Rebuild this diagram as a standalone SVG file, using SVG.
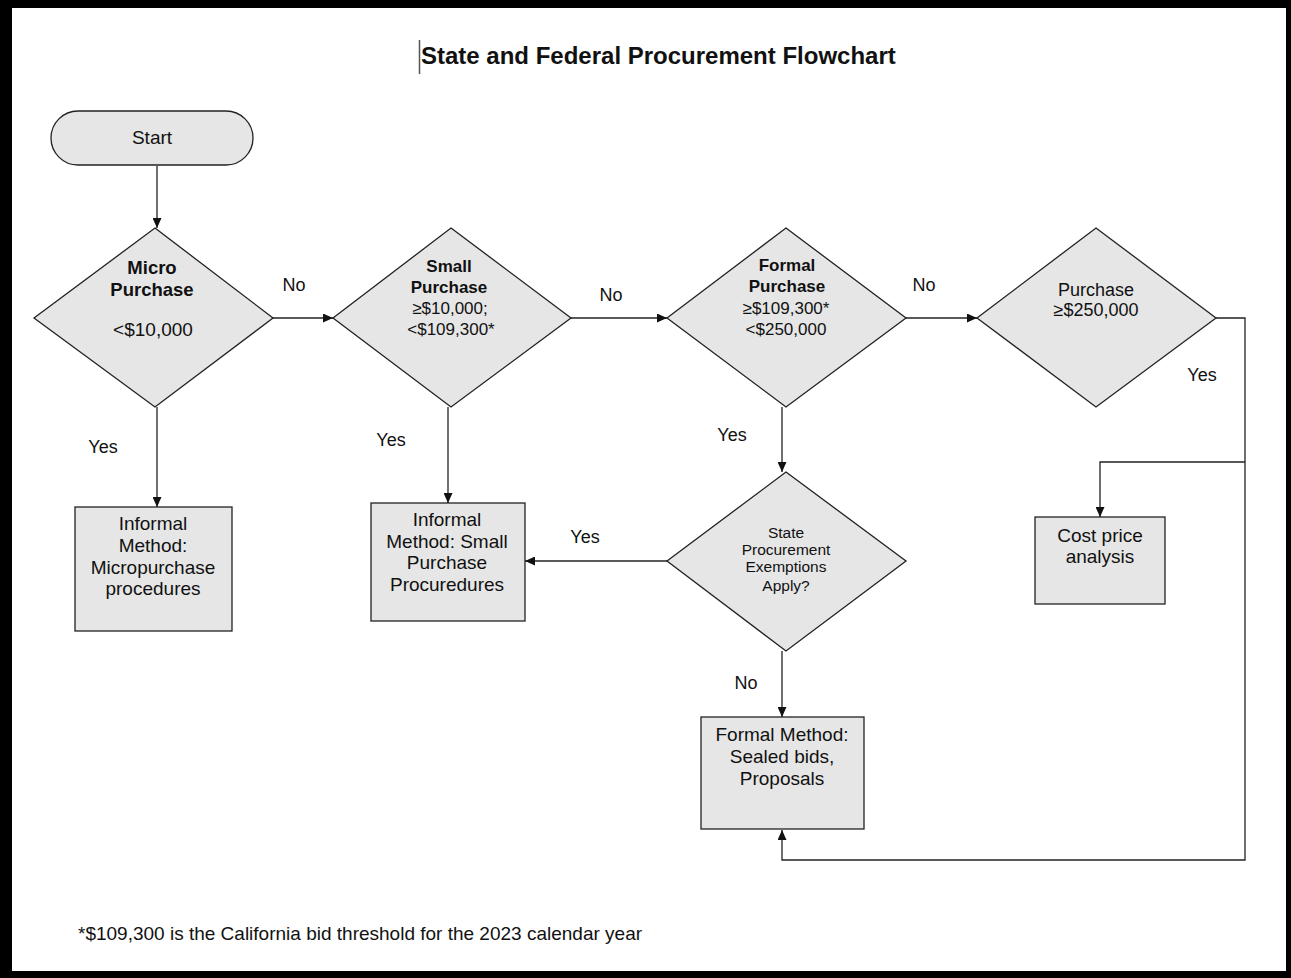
<svg xmlns="http://www.w3.org/2000/svg" width="1291" height="978" viewBox="0 0 1291 978">
<style>
.shape{fill:#e6e6e6;stroke:#222;stroke-width:1.3}
.t{font-family:"Liberation Sans",Arial,sans-serif;font-size:19px;fill:#111;text-anchor:middle}
.d{font-size:17px}
.b{font-weight:bold}
.s{font-size:15.5px}
.lbl{font-family:"Liberation Sans",Arial,sans-serif;font-size:18px;fill:#111;text-anchor:middle}
.c{fill:none;stroke:#222;stroke-width:1.3}
</style>
<defs>
<marker id="ah" viewBox="0 0 10 10" refX="10" refY="5" markerWidth="10" markerHeight="9" markerUnits="userSpaceOnUse" orient="auto" preserveAspectRatio="none">
<path d="M0,0 L10,5 L0,10 z" fill="#111"/>
</marker>
</defs>
<rect x="0" y="0" width="1291" height="978" fill="#000"/>
<rect x="12" y="8" width="1274" height="963" fill="#fff"/>
<g id="title">
<line x1="419.5" y1="40" x2="419.5" y2="74" stroke="#555" stroke-width="1.5"/>
<text x="421" y="64" font-family="'Liberation Sans',Arial,sans-serif" font-size="24" font-weight="bold" fill="#111">State and Federal Procurement Flowchart</text>
</g>
<g id="connectors">
<path class="c" d="M157,166 V228" marker-end="url(#ah)"/>
<path class="c" d="M273,318 H333" marker-end="url(#ah)"/>
<path class="c" d="M571,318 H667" marker-end="url(#ah)"/>
<path class="c" d="M906,318 H977" marker-end="url(#ah)"/>
<path class="c" d="M157,407 V507" marker-end="url(#ah)"/>
<path class="c" d="M448,407 V503" marker-end="url(#ah)"/>
<path class="c" d="M782,407 V472" marker-end="url(#ah)"/>
<path class="c" d="M667,561 H525" marker-end="url(#ah)"/>
<path class="c" d="M782,651 V717" marker-end="url(#ah)"/>
<path class="c" d="M1216,318 H1245 V860 H782 V830" marker-end="url(#ah)"/>
<path class="c" d="M1245,462 H1100 V517" marker-end="url(#ah)"/>
<text class="lbl" x="294" y="291">No</text>
<text class="lbl" x="611" y="301">No</text>
<text class="lbl" x="924" y="291">No</text>
<text class="lbl" x="1202" y="381">Yes</text>
<text class="lbl" x="103" y="453">Yes</text>
<text class="lbl" x="391" y="446">Yes</text>
<text class="lbl" x="732" y="441">Yes</text>
<text class="lbl" x="585" y="543">Yes</text>
<text class="lbl" x="746" y="689">No</text>
</g>
<g id="start">
<rect class="shape" x="51" y="111" width="202" height="54" rx="27" ry="27"/>
<text class="t" x="152" y="144">Start</text>
</g>
<g id="micro">
<polygon class="shape" points="155,228 273,318 155,407 34,318"/>
<text class="t b" x="152" y="274" style="font-size:18.5px">Micro</text>
<text class="t b" x="152" y="296" style="font-size:18.5px">Purchase</text>
<text class="t" x="153" y="336">&lt;$10,000</text>
</g>
<g id="small">
<polygon class="shape" points="451,228 571,318 451,407 333,318"/>
<text class="t d b" x="449" y="272">Small</text>
<text class="t d b" x="449" y="293">Purchase</text>
<text class="t d" x="450" y="314">≥$10,000;</text>
<text class="t d" x="451" y="335">&lt;$109,300*</text>
</g>
<g id="formal">
<polygon class="shape" points="786,228 906,318 786,407 667,318"/>
<text class="t d b" x="787" y="271">Formal</text>
<text class="t d b" x="787" y="292">Purchase</text>
<text class="t d" x="786" y="314">≥$109,300*</text>
<text class="t d" x="786" y="335">&lt;$250,000</text>
</g>
<g id="large">
<polygon class="shape" points="1096,228 1216,318 1096,407 977,318"/>
<text class="t" x="1096" y="296" style="font-size:18px">Purchase</text>
<text class="t" x="1096" y="316" style="font-size:18px">≥$250,000</text>
</g>
<g id="informal-micro">
<rect class="shape" x="75" y="507" width="157" height="124"/>
<text class="t" x="153" y="530">Informal</text>
<text class="t" x="153" y="552">Method:</text>
<text class="t" x="153" y="574">Micropurchase</text>
<text class="t" x="153" y="595">procedures</text>
</g>
<g id="informal-small">
<rect class="shape" x="371" y="503" width="154" height="118"/>
<text class="t" x="447" y="526">Informal</text>
<text class="t" x="447" y="548">Method: Small</text>
<text class="t" x="447" y="569">Purchase</text>
<text class="t" x="447" y="591">Procuredures</text>
</g>
<g id="exemptions">
<polygon class="shape" points="786,472 906,561 786,651 667,561"/>
<text class="t s" x="786" y="538">State</text>
<text class="t s" x="786" y="555">Procurement</text>
<text class="t s" x="786" y="572">Exemptions</text>
<text class="t s" x="786" y="591">Apply?</text>
</g>
<g id="formal-method">
<rect class="shape" x="701" y="717" width="163" height="112"/>
<text class="t" x="782" y="741">Formal Method:</text>
<text class="t" x="782" y="763">Sealed bids,</text>
<text class="t" x="782" y="785">Proposals</text>
</g>
<g id="cost">
<rect class="shape" x="1035" y="517" width="130" height="87"/>
<text class="t" x="1100" y="542">Cost price</text>
<text class="t" x="1100" y="563">analysis</text>
</g>
<g id="footnote">
<text x="78" y="940" font-family="'Liberation Sans',Arial,sans-serif" font-size="19" fill="#111">*$109,300 is the California bid threshold for the 2023 calendar year</text>
</g>
</svg>
